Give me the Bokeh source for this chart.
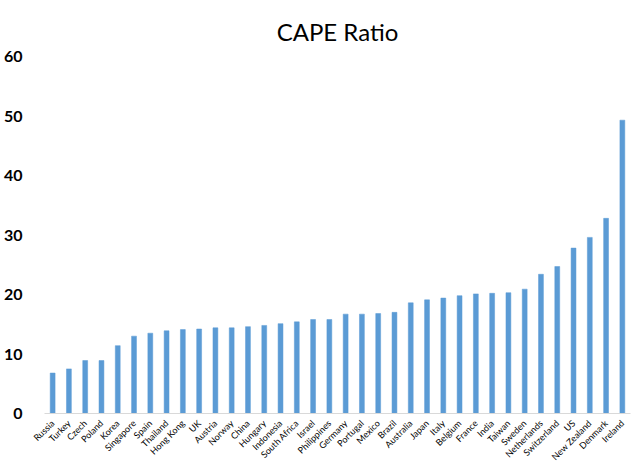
import math
from bokeh.plotting import figure
from bokeh.models import ColumnDataSource, Range1d, FactorRange, FixedTicker
from bokeh.embed import file_html
from bokeh.resources import INLINE

countries = ["Russia", "Turkey", "Czech", "Poland", "Korea", "Singapore", "Spain",
             "Thailand", "Hong Kong", "UK", "Austria", "Norway", "China", "Hungary",
             "Indonesia", "South Africa", "Israel", "Philippines", "Germany", "Portugal",
             "Mexico", "Brazil", "Australia", "Japan", "Italy", "Belgium", "France",
             "India", "Taiwan", "Sweden", "Netherlands", "Switzerland", "US",
             "New Zealand", "Denmark", "Ireland"]
cape = [6.8, 7.5, 8.9, 8.9, 11.4, 13.0, 13.5,
        13.9, 14.1, 14.2, 14.4, 14.4, 14.6, 14.8,
        15.1, 15.4, 15.8, 15.8, 16.7, 16.7,
        16.8, 17.0, 18.6, 19.1, 19.4, 19.8, 20.1,
        20.2, 20.3, 20.9, 23.4, 24.7, 27.8,
        29.6, 32.8, 49.3]
y_ticks = [0, 10, 20, 30, 40, 50, 60]

src = ColumnDataSource(dict(country=countries, cape=cape))

p = figure(frame_width=586, frame_height=357, output_backend="svg", toolbar_location=None,
           x_range=FactorRange(*countries, range_padding=0),
           y_range=Range1d(0, 60), title="CAPE Ratio",
           min_border_left=34, min_border_right=3, min_border_top=56,
           min_border_bottom=30)

p.vbar(x="country", top="cape", width=0.3, source=src,
       fill_color="#5B9BD5", line_color="#5B9BD5", line_width=0.5)

p.title.align = "center"
p.title.text_font = "Lato"
p.title.text_font_size = "24px"
p.title.text_font_style = "normal"
p.title.text_color = "#000000"
p.title.standoff = 22
p.title.offset = -16

p.outline_line_color = None
p.xgrid.grid_line_color = None
p.ygrid.grid_line_color = None

p.yaxis.ticker = FixedTicker(ticks=y_ticks)
p.yaxis.axis_line_color = None
p.yaxis.major_tick_line_color = None
p.yaxis.minor_tick_line_color = None
p.yaxis.major_label_text_font = "Lato"
p.yaxis.major_label_text_font_size = "16px"
p.yaxis.major_label_text_font_style = "bold"
p.yaxis.major_label_text_color = "#000000"
p.yaxis.major_label_standoff = 16

p.xaxis.axis_line_color = "#D9D9D9"
p.xaxis.axis_line_width = 1
p.xaxis.major_tick_line_color = None
p.xaxis.minor_tick_line_color = None
p.xaxis.major_label_orientation = math.pi / 4
p.xaxis.major_label_text_font = "Lato"
p.xaxis.major_label_text_font_size = "9px"
p.xaxis.major_label_text_color = "#000000"
p.xaxis.major_label_standoff = 2

open("out.html", "w").write(file_html(p, INLINE))
